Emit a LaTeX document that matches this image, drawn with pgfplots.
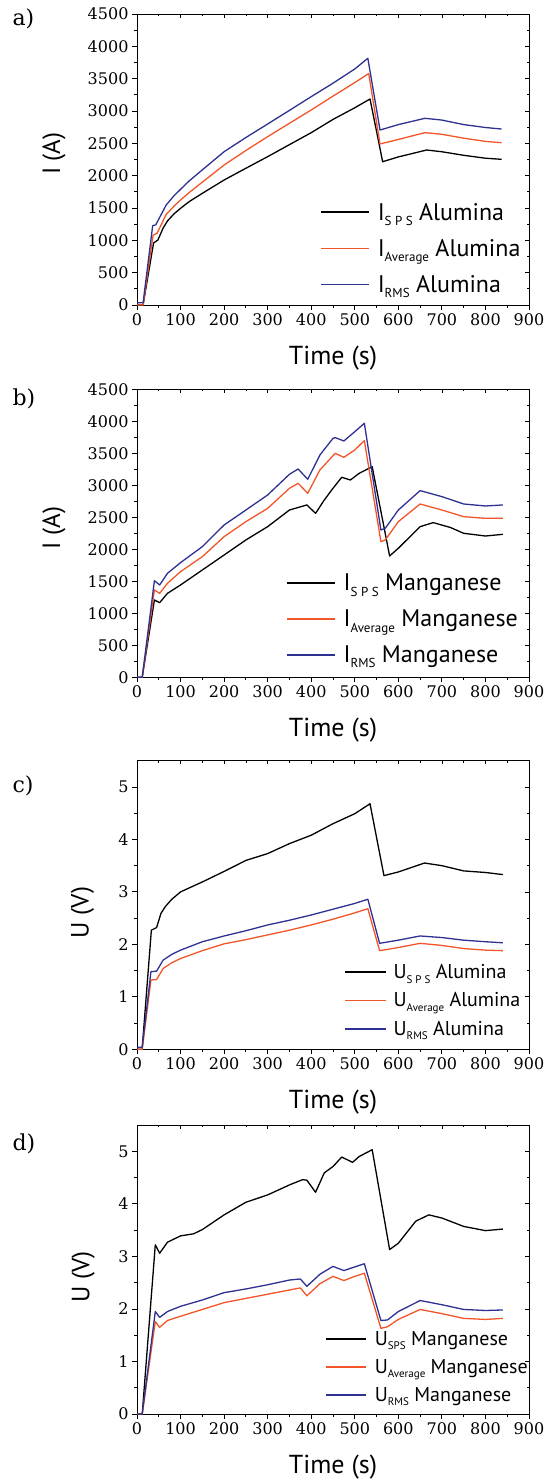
\documentclass[border=0pt]{standalone}
\usepackage{fontspec}
\setmainfont{PT Sans}
\newfontfamily\tickfont{DejaVu Serif}
\usepackage{pgfplots}
\pgfplotsset{compat=1.18}
\definecolor{cOr}{RGB}{242,86,40}
\definecolor{cBl}{RGB}{46,49,146}
\newcommand{\sub}[1]{\raisebox{-0.45ex}{\fontsize{13}{13}\selectfont #1}}
\newcommand{\subs}[1]{\raisebox{-0.45ex}{\fontsize{11}{11}\selectfont #1}}
\pgfplotsset{
  geom/.style={scale only axis, width=392pt,
    xmin=0, xmax=900, xtick={0,100,...,900}, minor x tick num=1},
  common/.style={geom,
    tick align=outside, tick pos=left,
    major tick length=5pt, minor tick length=3pt,
    every tick/.style={black, line width=0.8pt},
    axis line style={line width=0.9pt},
    ticklabel style={font=\fontsize{16}{16}\selectfont\tickfont},
    /pgf/number format/assume math mode=true,
    /pgf/number format/1000 sep={},
    scaled ticks=false,
    xlabel={Time (s)},
    xlabel style={font=\fontsize{26}{26}\selectfont, at={(axis description cs:0.5,0)}, anchor=center, yshift=-53pt},
    ylabel style={font=\fontsize{25}{25}\selectfont, anchor=center},
    legend style={draw=none, fill=none, legend cell align=left, inner sep=0pt},
    legend image code/.code={\draw[#1, line width=1.7pt] (0pt,0pt) -- (48pt,0pt); \path (54pt,0pt);},
    every axis plot/.append style={line width=1.3pt, line join=round},
  },
  mirror/.style={geom, tick align=inside, tick pos=right,
    xticklabels={}, yticklabels={}, axis line style={draw=none},
    major tick length=3.5pt, minor tick length=2pt,
    every tick/.style={black, line width=0.7pt}},
  curr/.style={ymin=0, ymax=4500, ytick={0,500,...,4500}, minor y tick num=1},
  volt/.style={ymin=0, ymax=5.5, ytick={0,1,...,5}, minor y tick num=1},
}
\begin{document}
\begin{tikzpicture}
\path[use as bounding box] (0,0) rectangle (547pt,-1484pt);
\node[anchor=base west, font=\fontsize{22}{22}\selectfont\tickfont] at (9pt,-25pt) {a)};
\node[anchor=base west, font=\fontsize{22}{22}\selectfont\tickfont] at (9pt,-405pt) {b)};
\node[anchor=base west, font=\fontsize{22}{22}\selectfont\tickfont] at (9pt,-792pt) {c)};
\node[anchor=base west, font=\fontsize{22}{22}\selectfont\tickfont] at (9pt,-1150pt) {d)};

% ---------- a ----------
\begin{axis}[mirror, curr, height=291pt, at={(137pt,-305pt)}, anchor=south west]
\end{axis}
\begin{axis}[common, curr, height=291pt, at={(137pt,-305pt)}, anchor=south west,
  ylabel={I (A)}, ylabel style={at={(axis description cs:-0.212,0.52)}},
  legend style={at={(0.467,0.358)}, anchor=north west, font=\fontsize{24}{24}\selectfont, row sep=13.5pt}]
\addplot[black] coordinates {(0,0)(14,0)(38,958)(48,1005)(60,1190)(70,1300)(85,1410)(100,1495)(120,1600)(150,1727)(200,1933)(250,2115)(300,2294)(350,2480)(400,2665)(450,2870)(500,3050)(535,3186)(564,2216)(600,2290)(665,2397)(700,2370)(750,2315)(800,2270)(837,2253)};
\addlegendentry{I\sub{S P S} Alumina}
\addplot[cOr] coordinates {(0,0)(14,0)(37,1082)(46,1108)(67,1400)(85,1530)(100,1624)(120,1740)(150,1900)(200,2165)(250,2390)(300,2603)(350,2810)(400,3016)(450,3230)(500,3440)(532,3580)(558,2490)(600,2560)(661,2665)(700,2640)(750,2580)(800,2530)(837,2510)};
\addlegendentry{I\sub{Average} Alumina}
\addplot[cBl] coordinates {(0,35)(14,35)(36,1226)(43,1240)(67,1546)(85,1690)(100,1789)(120,1920)(150,2090)(200,2371)(250,2590)(300,2799)(350,3010)(400,3222)(450,3430)(500,3650)(530,3815)(558,2706)(600,2790)(661,2887)(700,2860)(750,2790)(800,2745)(837,2721)};
\addlegendentry{I\sub{RMS} Alumina}
\end{axis}

% ---------- b ----------
\begin{axis}[mirror, curr, height=288pt, at={(137pt,-677.3pt)}, anchor=south west]
\end{axis}
\begin{axis}[common, curr, height=288pt, at={(137pt,-677.3pt)}, anchor=south west,
  ylabel={I (A)}, ylabel style={at={(axis description cs:-0.212,0.518)}},
  legend style={at={(0.38,0.366)}, anchor=north west, font=\fontsize{24}{24}\selectfont, row sep=13.5pt}]
\addplot[black] coordinates {(0,0)(12,0)(40,1208)(52,1166)(70,1312)(100,1443)(150,1677)(200,1911)(250,2146)(300,2354)(350,2614)(390,2693)(410,2562)(430,2771)(450,2953)(470,3125)(490,3083)(510,3187)(540,3291)(580,1896)(600,2016)(650,2354)(680,2417)(720,2340)(750,2250)(800,2208)(840,2234)};
\addlegendentry{I\sub{S P S} Manganese}
\addplot[cOr] coordinates {(0,0)(12,0)(40,1365)(52,1312)(70,1469)(100,1651)(150,1885)(200,2198)(250,2432)(300,2640)(350,2953)(370,3031)(392,2875)(420,3240)(455,3500)(475,3437)(500,3552)(522,3698)(560,2120)(570,2146)(600,2432)(650,2708)(700,2614)(750,2510)(800,2484)(840,2484)};
\addlegendentry{I\sub{Average} Manganese}
\addplot[cBl] coordinates {(0,0)(12,0)(40,1510)(52,1443)(70,1625)(100,1792)(150,2042)(200,2380)(250,2614)(300,2849)(350,3172)(370,3255)(392,3094)(420,3474)(450,3734)(455,3745)(475,3693)(500,3838)(522,3969)(560,2302)(570,2328)(600,2614)(650,2917)(700,2823)(750,2708)(800,2677)(840,2693)};
\addlegendentry{I\sub{RMS} Manganese}
\end{axis}

% ---------- c ----------
\begin{axis}[mirror, volt, height=288.6pt, at={(137pt,-1049.3pt)}, anchor=south west]
\end{axis}
\begin{axis}[common, volt, height=288.6pt, at={(137pt,-1049.3pt)}, anchor=south west,
  ylabel={U (V)}, ylabel style={at={(axis description cs:-0.139,0.473)}},
  legend style={at={(0.528,0.302)}, anchor=north west, font=\fontsize{20}{20}\selectfont, row sep=8.5pt},
  legend image code/.code={\draw[#1, line width=1.7pt] (0pt,0pt) -- (41pt,0pt); \path (46pt,0pt);}]
\addplot[black] coordinates {(0,0.03)(12,0.03)(33,2.27)(45,2.32)(55,2.59)(65,2.72)(80,2.86)(100,3.00)(150,3.19)(200,3.39)(250,3.60)(300,3.73)(350,3.92)(400,4.08)(450,4.30)(500,4.49)(535,4.68)(567,3.31)(600,3.38)(660,3.55)(700,3.50)(750,3.40)(800,3.37)(840,3.33)};
\addlegendentry{U\subs{S P S} Alumina}
\addplot[cOr] coordinates {(0,0)(12,0)(32,1.32)(45,1.33)(60,1.54)(80,1.65)(100,1.73)(150,1.88)(200,2.01)(250,2.09)(300,2.18)(350,2.27)(400,2.37)(450,2.48)(500,2.60)(530,2.68)(557,1.88)(600,1.94)(650,2.02)(700,1.98)(750,1.92)(800,1.89)(840,1.88)};
\addlegendentry{U\subs{Average} Alumina}
\addplot[cBl] coordinates {(0,0.04)(12,0.04)(32,1.48)(45,1.49)(60,1.70)(80,1.81)(100,1.89)(150,2.05)(200,2.16)(250,2.26)(300,2.37)(350,2.46)(400,2.56)(450,2.67)(500,2.78)(530,2.86)(557,2.02)(600,2.08)(650,2.16)(700,2.13)(750,2.08)(800,2.05)(840,2.03)};
\addlegendentry{U\subs{RMS} Alumina}
\end{axis}

% ---------- d ----------
\begin{axis}[mirror, volt, height=289pt, at={(137pt,-1414pt)}, anchor=south west]
\end{axis}
\begin{axis}[common, volt, height=289pt, at={(137pt,-1414pt)}, anchor=south west,
  ylabel={U (V)}, ylabel style={at={(axis description cs:-0.137,0.474)}},
  legend style={at={(0.48,0.294)}, anchor=north west, font=\fontsize{20}{20}\selectfont, row sep=8.5pt},
  legend image code/.code={\draw[#1, line width=1.7pt] (0pt,0pt) -- (40pt,0pt); \path (46pt,0pt);}]
\addplot[black] coordinates {(0,0)(12,0)(42,3.22)(52,3.06)(70,3.27)(100,3.39)(130,3.43)(150,3.51)(200,3.79)(250,4.03)(300,4.17)(350,4.36)(380,4.46)(390,4.45)(410,4.22)(430,4.59)(450,4.71)(470,4.89)(495,4.79)(510,4.90)(540,5.03)(580,3.13)(600,3.25)(640,3.67)(670,3.79)(700,3.73)(750,3.57)(800,3.49)(840,3.52)};
\addlegendentry{U\subs{SPS} Manganese}
\addplot[cOr] coordinates {(0,0)(12,0)(42,1.76)(52,1.65)(70,1.78)(100,1.86)(150,1.99)(200,2.12)(250,2.20)(300,2.28)(350,2.36)(375,2.40)(390,2.25)(420,2.48)(450,2.62)(475,2.54)(500,2.62)(522,2.68)(560,1.63)(575,1.66)(600,1.80)(650,1.99)(700,1.91)(750,1.82)(800,1.80)(840,1.82)};
\addlegendentry{U\subs{Average} Manganese}
\addplot[cBl] coordinates {(0,0)(12,0)(42,1.95)(52,1.84)(70,1.95)(100,2.05)(150,2.17)(200,2.31)(250,2.38)(300,2.46)(350,2.55)(375,2.57)(390,2.43)(420,2.66)(450,2.81)(475,2.73)(500,2.80)(522,2.86)(560,1.78)(575,1.79)(600,1.95)(650,2.16)(700,2.08)(750,1.99)(800,1.97)(840,1.98)};
\addlegendentry{U\subs{RMS} Manganese}
\end{axis}
\end{tikzpicture}
\end{document}
